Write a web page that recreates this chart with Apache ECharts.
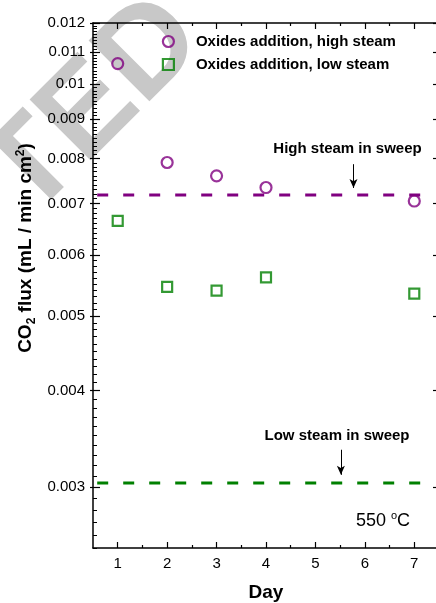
<!DOCTYPE html>
<html><head><meta charset="utf-8">
<script src="https://cdn.jsdelivr.net/npm/echarts@6/dist/echarts.min.js"></script>
<style>html,body{margin:0;padding:0;background:#fff}#c{width:436px;height:603px}</style>
</head><body><div id="c"></div>
<script>
// ---- data ----
const days = [1, 2, 3, 4, 7];
const highSteam = [0.01063, 0.00791, 0.00760, 0.00734, 0.00705];
const lowSteam = [0.006644, 0.005454, 0.005393, 0.005612, 0.005345];
const highSweepLevel = 0.00718;
const lowSweepLevel = 0.003035;
const sweepSpan = [0.585, 7.12];
const xTickValues = [1, 2, 3, 4, 5, 6, 7];
const xMinorTicks = [1.5, 2.5, 3.5, 4.5, 5.5, 6.5];
const yTickValues = [0.003, 0.004, 0.005, 0.006, 0.007, 0.008, 0.009, 0.01, 0.011, 0.012];
const yTickLabels = ['0.003', '0.004', '0.005', '0.006', '0.007', '0.008', '0.009', '0.01', '0.011', '0.012'];
const seriesNames = ['Oxides addition, high steam', 'Oxides addition, low steam'];
const highArrow = { x: 5.77, from: 0.00787, to: 0.00733 };
const lowArrow = { x: 5.515, from: 0.003353, to: 0.003111 };

const yMinorTicks = [];
for (let i = 25; i <= 120; i++) yMinorTicks.push(i / 10000);

const PURPLE = '#800080', GREEN = '#008000';
const FONT = '"Liberation Sans", Arial, sans-serif';

const chart = echarts.init(document.getElementById('c'), null, { renderer: 'canvas' });

function yFmt(v) {
  for (let i = 0; i < yTickValues.length; i++) {
    if (Math.abs(v - yTickValues[i]) < 1e-6) return yTickLabels[i];
  }
  return '';
}

const axLine = { show: true, onZero: false, lineStyle: { color: '#000', width: 1.5 } };
const ghostLine = { show: true, onZero: false, lineStyle: { color: 'rgba(0,0,0,0)', width: 1 } };
const tickStyle = { color: '#000', width: 1.2 };

function yAx(extra) {
  return Object.assign({
    type: 'log', logBase: 10, min: 0.0025, max: 0.012, position: 'left',
    splitLine: { show: false }, axisLabel: { show: false }, axisLine: ghostLine
  }, extra);
}
function xAx(extra) {
  return Object.assign({
    type: 'value', min: 0.5, max: 7.5, interval: 0.5, position: 'bottom',
    splitLine: { show: false }, axisLabel: { show: false }, axisLine: ghostLine
  }, extra);
}

const option = {
  animation: false,
  backgroundColor: '#fff',
  textStyle: { fontFamily: FONT },
  grid: { left: 93, right: -3, top: 23, bottom: 55, containLabel: false, outerBoundsMode: 'none' },
  legend: {
    orient: 'vertical', left: 156.8, top: 29, itemWidth: 11, itemHeight: 11, itemGap: 8,
    selectedMode: false,
    textStyle: { fontSize: 15, fontWeight: 'bold', color: '#000', fontFamily: FONT, rich: { g: { width: 17 } } },
    formatter: n => '{g| }' + n,
    data: [
      { name: seriesNames[0], icon: 'circle', itemStyle: { color: 'rgba(0,0,0,0)', borderColor: PURPLE, borderWidth: 2.2 } },
      { name: seriesNames[1], icon: 'rect', itemStyle: { color: 'rgba(0,0,0,0)', borderColor: GREEN, borderWidth: 2.2 } }
    ]
  },
  xAxis: [
    xAx({
      axisLine: axLine,
      axisTick: { show: true, inside: true, length: 6, customValues: xTickValues, lineStyle: tickStyle },
      axisLabel: { show: true, customValues: xTickValues, margin: 8, fontSize: 15, color: '#000', fontFamily: FONT, formatter: v => String(v) },
      name: 'Day', nameLocation: 'middle', nameGap: 35,
      nameTextStyle: { fontSize: 19, fontWeight: 'bold', color: '#000', fontFamily: FONT }
    }),
    xAx({ axisTick: { show: true, inside: true, length: 3, customValues: xMinorTicks, lineStyle: tickStyle } }),
    xAx({ position: 'top', axisLine: axLine,
      axisTick: { show: true, inside: true, length: 6, customValues: xTickValues, lineStyle: tickStyle } }),
    xAx({ position: 'top',
      axisTick: { show: true, inside: true, length: 3, customValues: xMinorTicks, lineStyle: tickStyle } })
  ],
  yAxis: [
    yAx({
      axisLine: axLine,
      axisTick: { show: true, inside: true, length: 7, customValues: yTickValues, lineStyle: tickStyle },
      axisLabel: { show: true, customValues: yTickValues, margin: 8, fontSize: 15, color: '#000', fontFamily: FONT, formatter: yFmt }
    }),
    yAx({ axisTick: { show: true, inside: true, length: 4, customValues: yMinorTicks, lineStyle: { color: '#000', width: 1 } } }),
    yAx({ axisTick: { show: true, inside: false, length: 3, customValues: yTickValues, lineStyle: tickStyle } }),
    yAx({ position: 'right', axisLine: axLine,
      axisTick: { show: true, inside: true, length: 6, customValues: yTickValues, lineStyle: tickStyle } })
  ],
  series: [
    {
      name: 'highSweep', type: 'line', silent: true, symbol: 'none', z: 1,
      data: [[sweepSpan[0], highSweepLevel], [sweepSpan[1], highSweepLevel]],
      lineStyle: { color: PURPLE, width: 3, type: [11, 15] },
      markLine: {
        silent: true, symbol: ['none', 'arrow'], symbolSize: [6, 9],
        lineStyle: { color: '#000', width: 1, type: 'solid' }, label: { show: false },
        data: [[{ coord: [highArrow.x, highArrow.from] }, { coord: [highArrow.x, highArrow.to] }]]
      }
    },
    {
      name: 'lowSweep', type: 'line', silent: true, symbol: 'none', z: 1,
      data: [[sweepSpan[0], lowSweepLevel], [sweepSpan[1], lowSweepLevel]],
      lineStyle: { color: GREEN, width: 3, type: [11, 15] },
      markLine: {
        silent: true, symbol: ['none', 'arrow'], symbolSize: [6, 9],
        lineStyle: { color: '#000', width: 1, type: 'solid' }, label: { show: false },
        data: [[{ coord: [lowArrow.x, lowArrow.from] }, { coord: [lowArrow.x, lowArrow.to] }]]
      }
    },
    {
      name: seriesNames[0], type: 'scatter', symbol: 'circle', symbolSize: 11,
      data: days.map((d, i) => [d, highSteam[i]]),
      itemStyle: { color: 'rgba(0,0,0,0)', borderColor: PURPLE, borderWidth: 2.2 }
    },
    {
      name: seriesNames[1], type: 'scatter', symbol: 'rect', symbolSize: 10,
      data: days.map((d, i) => [d, lowSteam[i]]),
      itemStyle: { color: 'rgba(0,0,0,0)', borderColor: GREEN, borderWidth: 2.2 }
    }
  ],
  graphic: [
    {
      type: 'text', z: -10, x: 183, y: 19, rotation: Math.PI / 4, silent: true,
      style: { text: 'ACCEPTED', font: 'bold 125px ' + FONT, fill: '#c8c8c8', textAlign: 'right', textVerticalAlign: 'middle' }
    },
    {
      type: 'text', x: 26, y: 248, rotation: Math.PI / 2, silent: true,
      style: {
        text: '{a|CO}{b|2}{a| flux (mL / min cm}{c|2}{a|)}',
        textAlign: 'center', textVerticalAlign: 'middle',
        rich: {
          a: { fontSize: 19, fontWeight: 'bold', fontFamily: FONT, fill: '#000', lineHeight: 23 },
          b: { fontSize: 12, fontWeight: 'bold', fontFamily: FONT, fill: '#000', lineHeight: 12, verticalAlign: 'bottom' },
          c: { fontSize: 12, fontWeight: 'bold', fontFamily: FONT, fill: '#000', lineHeight: 12, verticalAlign: 'top' }
        }
      }
    },
    {
      type: 'text', x: 347.5, y: 148.5, silent: true,
      style: { text: 'High steam in sweep', font: 'bold 15px ' + FONT, fill: '#000', textAlign: 'center', textVerticalAlign: 'middle' }
    },
    {
      type: 'text', x: 337, y: 436, silent: true,
      style: { text: 'Low steam in sweep', font: 'bold 15px ' + FONT, fill: '#000', textAlign: 'center', textVerticalAlign: 'middle' }
    },
    {
      type: 'text', x: 383, y: 521, silent: true,
      style: {
        text: '{a|550 }{s|o}{a|C}', textAlign: 'center', textVerticalAlign: 'middle',
        rich: {
          a: { fontSize: 18, fontFamily: FONT, fill: '#000', lineHeight: 22 },
          s: { fontSize: 11, fontFamily: FONT, fill: '#000', lineHeight: 11, verticalAlign: 'top' }
        }
      }
    }
  ]
};
chart.setOption(option);
</script>
</body></html>
